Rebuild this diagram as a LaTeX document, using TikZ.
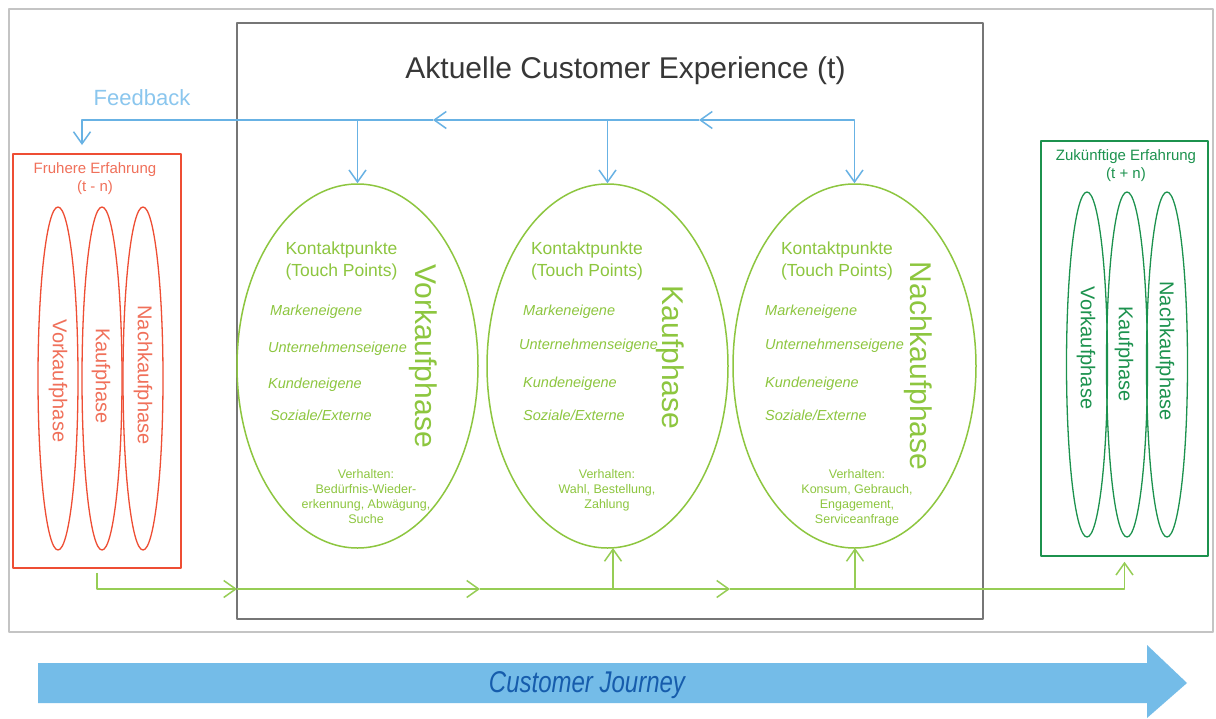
\documentclass[tikz,border=0pt]{standalone}
\usepackage{fontspec}
\setmainfont{Liberation Sans}
\usetikzlibrary{arrows.meta,shapes.geometric}
\definecolor{framegray}{RGB}{196,196,196}
\definecolor{boxgray}{RGB}{118,118,118}
\definecolor{titlegray}{RGB}{55,55,55}
\definecolor{pastred}{RGB}{238,78,52}
\definecolor{pasttext}{RGB}{240,112,90}
\definecolor{nowgreen}{RGB}{141,198,63}
\definecolor{flowgreen}{RGB}{150,205,85}
\definecolor{futgreen}{RGB}{28,146,78}
\definecolor{fbblue}{RGB}{104,178,228}
\definecolor{fbtext}{RGB}{138,198,238}
\definecolor{cjblue}{RGB}{116,188,232}
\definecolor{cjtext}{RGB}{22,92,172}

\begin{document}
\begin{tikzpicture}[x=1pt,y=-1pt,>={Straight Barb[length=12pt,width=17pt]},
                    line join=round]
  \tikzstyle{phase} = [ellipse, draw=nowgreen, line width=1.5pt, inner sep=0pt,
    minimum width=241pt, minimum height=364pt]
  \tikzstyle{pastphase} = [ellipse, draw=pastred, line width=1.3pt, inner sep=0pt,
    minimum width=40pt, minimum height=343pt]
  \tikzstyle{futphase} = [ellipse, draw=futgreen, line width=1.3pt, inner sep=0pt,
    minimum width=41pt, minimum height=345pt]
  \tikzstyle{pastlabel} = [rotate=-90, inner sep=0pt, text=pasttext,
    font=\fontsize{20}{24}\selectfont]
  \tikzstyle{futlabel} = [rotate=-90, inner sep=0pt, text=futgreen,
    font=\fontsize{20}{24}\selectfont]
  \tikzstyle{bigphase} = [rotate=-90, inner sep=0pt, text=nowgreen,
    font=\fontsize{30}{36}\selectfont]
  \tikzstyle{touch} = [anchor=north, align=center, inner sep=0pt, text=nowgreen,
    font=\fontsize{17.5}{22}\selectfont]
  \tikzstyle{owner} = [anchor=base west, inner sep=0pt, text=nowgreen,
    font=\itshape\fontsize{14.5}{17}\selectfont]
  \tikzstyle{behave} = [anchor=north, align=center, inner sep=0pt, text=nowgreen,
    font=\fontsize{12.5}{15}\selectfont]
  \tikzstyle{boxtitle} = [anchor=north, align=center, inner sep=0pt,
    font=\fontsize{15}{18}\selectfont]
  \tikzstyle{fbline} = [draw=fbblue, line width=1.5pt]
  \tikzstyle{flowline} = [draw=flowgreen, line width=1.5pt]

  \useasboundingbox (0,0) rectangle (1216,718);
  \fill[white] (0,0) rectangle (1216,718);

  % frames
  \draw[framegray, line width=2pt] (9,9) rectangle (1213,632);
  \draw[boxgray, line width=1.3pt] (237,23) rectangle (983,619);
  \node[anchor=base, text=titlegray, font=\fontsize{30}{36}\selectfont]
        (title) at (625.5,78) {Aktuelle Customer Experience (t)};

  % earlier experience
  \node[draw=pastred, line width=1.5pt, inner sep=0pt,
        minimum width=168pt, minimum height=414pt] (past) at (97,361) {};
  \node[boxtitle, text=pasttext] (pastname) at (95,162) {Fruhere Erfahrung\\(t - n)};
  \node[pastphase] (p1) at (58,378.5) {};
  \node[pastphase] (p2) at (102,378.5) {};
  \node[pastphase] (p3) at (143,378.5) {};
  \node[pastlabel] (p1t) at (58,381) {Vorkaufphase};
  \node[pastlabel] (p2t) at (101,376) {Kaufphase};
  \node[pastlabel] (p3t) at (143,375) {Nachkaufphase};

  % future experience
  \node[draw=futgreen, line width=1.5pt, inner sep=0pt,
        minimum width=167pt, minimum height=415pt] (future) at (1124.5,348.5) {};
  \node[boxtitle, text=futgreen] (futname) at (1126,149) {Zukünftige Erfahrung\\(t + n)};
  \node[futphase] (z1) at (1087,364.5) {};
  \node[futphase] (z2) at (1127,364.5) {};
  \node[futphase] (z3) at (1167,364.5) {};
  \node[futlabel] (z1t) at (1086,348) {Vorkaufphase};
  \node[futlabel] (z2t) at (1124,354) {Kaufphase};
  \node[futlabel] (z3t) at (1165,351) {Nachkaufphase};

  % current phases
  \node[phase] (e1) at (357.5,366) {};
  \node[phase] (e2) at (607.5,366) {};
  \node[phase, minimum width=243pt] (e3) at (854.5,366) {};

  \node[touch] (k1) at (341.5,242) {Kontaktpunkte\\(Touch Points)};
  \node[owner] (m1) at (270,315) {Markeneigene};
  \node[owner] (u1) at (268,352) {Unternehmenseigene};
  \node[owner] (c1) at (268,388) {Kundeneigene};
  \node[owner] (s1) at (270,420) {Soziale/Externe};
  \node[bigphase] (v1) at (423,356) {Vorkaufphase};
  \node[behave] (b1) at (366,469) {Verhalten:\\Bedürfnis-Wieder-\\erkennung, Abwägung,\\Suche};

  \node[touch] (k2) at (587,242) {Kontaktpunkte\\(Touch Points)};
  \node[owner] (m2) at (523,315) {Markeneigene};
  \node[owner] (u2) at (519,349) {Unternehmenseigene};
  \node[owner] (c2) at (523,387) {Kundeneigene};
  \node[owner] (s2) at (523,420) {Soziale/Externe};
  \node[bigphase] (v2) at (670,357.5) {Kaufphase};
  \node[behave] (b2) at (607,469) {Verhalten:\\Wahl, Bestellung,\\Zahlung};

  \node[touch] (k3) at (837,242) {Kontaktpunkte\\(Touch Points)};
  \node[owner] (m3) at (765,315) {Markeneigene};
  \node[owner] (u3) at (765,349) {Unternehmenseigene};
  \node[owner] (c3) at (765,387) {Kundeneigene};
  \node[owner] (s3) at (765,420) {Soziale/Externe};
  \node[bigphase] (v3) at (918,366) {Nachkaufphase};
  \node[behave] (b3) at (857,469) {Verhalten:\\Konsum, Gebrauch,\\Engagement,\\Serviceanfrage};

  % feedback
  \node[anchor=base, text=fbtext, font=\fontsize{22}{26}\selectfont]
        (fb) at (142,105) {Feedback};
  \coordinate (f0) at (82,120);
  \coordinate (f1) at (357.5,120);
  \coordinate (fm1) at (433,120);
  \coordinate (f2) at (607.5,120);
  \coordinate (fm2) at (699,120);
  \coordinate (f3) at (854.5,120);
  \coordinate (fin) at (82,145);

  \draw[fbline,<->] (fm2) -- (f3) -- (e3.north);
  \draw[fbline,<-] (fm1) -- (fm2);
  \draw[fbline,->] (fm1) -- (f0) -- (fin);
  \draw[fbline,->] (f1) -- (e1.north);
  \draw[fbline,->] (f2) -- (e2.north);

  % customer flow
  \coordinate (g1) at (237,589);
  \coordinate (g2) at (480,589);
  \coordinate (j1) at (613,589);
  \coordinate (g3) at (730,589);
  \coordinate (j2) at (855,589);
  \coordinate (t1) at (613,548);
  \coordinate (t2) at (855,548);

  \draw[flowline,->,shorten <=4pt] (past.south) |- (g1);
  \draw[flowline,->] (g1) -- (g2);
  \draw[flowline,->] (g2) -- (g3);
  \draw[flowline,->,shorten >=5pt] (g3) -| (future.south);
  \draw[flowline,->] (j1) -- (t1);
  \draw[flowline,->] (j2) -- (t2);

  % customer journey
  \fill[cjblue] (38,663) -- (1147,663) -- (1147,645) -- (1187,683)
        -- (1147,718) -- (1147,703) -- (38,703) -- cycle;
  \node[anchor=base, text=cjtext, font=\itshape\fontsize{30}{36}\selectfont,
        xscale=0.8] (cj) at (587,692) {Customer Journey};

\end{tikzpicture}
\end{document}
